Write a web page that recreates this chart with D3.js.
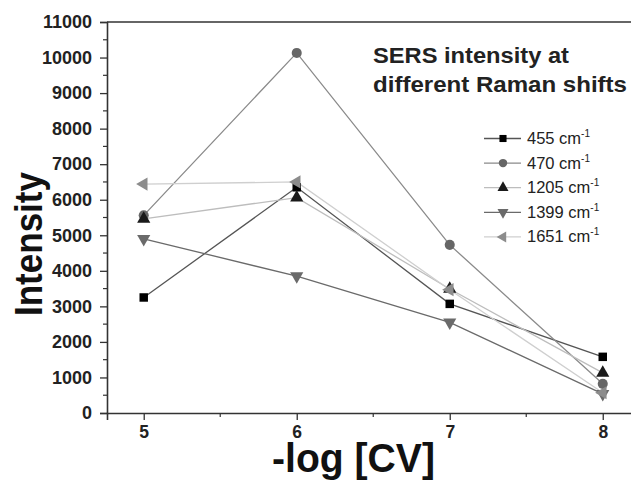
<!DOCTYPE html>
<html>
<head>
<meta charset="utf-8">
<script src="https://cdn.jsdelivr.net/npm/d3@7"></script>
<style>
  html, body { margin: 0; padding: 0; background: #fff; }
  svg { display: block; font-family: Arial, "Liberation Sans", sans-serif; }
</style>
</head>
<body>
<svg id="chart" width="631" height="481"></svg>
<script>
// -log[CV] concentrations on the x axis
const concentrations = [5, 6, 7, 8];

// SERS intensity for each Raman shift
const series455 = [3250, 6350, 3070, 1580];
const series470 = [5560, 10130, 4730, 820];
const series1205 = [5460, 6060, 3490, 1130];
const series1399 = [4900, 3850, 2550, 540];
const series1651 = [6440, 6500, 3470, 570];

const seriesNames = ["455", "470", "1205", "1399", "1651"];
const yTicks = [0, 1000, 2000, 3000, 4000, 5000, 6000, 7000, 8000, 9000, 10000, 11000];
const xTicks = [5, 6, 7, 8];

const seriesList = [
  { name: seriesNames[0], values: series455, symbol: d3.symbolSquare, size: 72, line: "#555", fill: "#000", rot: 0 },
  { name: seriesNames[1], values: series470, symbol: d3.symbolCircle, size: 80, line: "#8a8a8a", fill: "#666", rot: 0 },
  { name: seriesNames[2], values: series1205, symbol: d3.symbolTriangle, size: 75, line: "#bdbdbd", fill: "#1a1a1a", rot: 0 },
  { name: seriesNames[3], values: series1399, symbol: d3.symbolTriangle, size: 75, line: "#6a6a6a", fill: "#6a6a6a", rot: 180 },
  { name: seriesNames[4], values: series1651, symbol: d3.symbolTriangle, size: 75, line: "#cfcfcf", fill: "#8c8c8c", rot: -90 }
];

const svg = d3.select("#chart");
const x = d3.scaleLinear().domain([4.76, 8.25]).range([107, 641]);
const y = d3.scaleLinear().domain([0, 11000]).range([413, 22]);

const axisColor = "#333";
const labelFont = "Arial, 'Liberation Sans', sans-serif";

// frame: top border (right side runs past the canvas)
svg.append("line").attr("x1", 107).attr("x2", 641).attr("y1", y(11000)).attr("y2", y(11000))
  .attr("stroke", axisColor).attr("stroke-width", 1.6);

// y axis
const yAxis = svg.append("g").attr("transform", "translate(107,0)")
  .call(d3.axisLeft(y).tickValues(yTicks).tickSize(7).tickPadding(8).tickFormat(d3.format("d")));
yAxis.select(".domain").attr("stroke", axisColor).attr("stroke-width", 1.6);
yAxis.selectAll(".tick line").attr("stroke", axisColor).attr("stroke-width", 1.3);
yAxis.selectAll("text").attr("font-size", 18).attr("font-weight", "bold").attr("fill", "#222")
  .attr("font-family", labelFont);
// minor y ticks
svg.append("g").selectAll("line").data(d3.range(500, 11000, 1000)).join("line")
  .attr("x1", 107).attr("x2", 103).attr("y1", d => y(d)).attr("y2", d => y(d))
  .attr("stroke", axisColor).attr("stroke-width", 1.2);

// x axis
const xAxis = svg.append("g").attr("transform", "translate(0,413)")
  .call(d3.axisBottom(x).tickValues(xTicks).tickSize(7).tickPadding(6).tickFormat(d3.format("d")));
xAxis.select(".domain").attr("stroke", axisColor).attr("stroke-width", 1.6);
xAxis.selectAll(".tick line").attr("stroke", axisColor).attr("stroke-width", 1.3);
xAxis.selectAll("text").attr("font-size", 17.5).attr("font-weight", "bold").attr("fill", "#222")
  .attr("font-family", labelFont);
// minor x ticks
svg.append("g").selectAll("line").data([5.5, 6.5, 7.5]).join("line")
  .attr("x1", d => x(d)).attr("x2", d => x(d)).attr("y1", 413).attr("y2", 417)
  .attr("stroke", axisColor).attr("stroke-width", 1.2);

// series lines
const lineGen = d3.line().x((d, i) => x(concentrations[i])).y(d => y(d));
const sym = d3.symbol();

seriesList.forEach(s => {
  svg.append("path").datum(s.values).attr("d", lineGen)
    .attr("fill", "none").attr("stroke", s.line).attr("stroke-width", 1.3);
});
seriesList.forEach(s => {
  svg.append("g").selectAll("path").data(s.values).join("path")
    .attr("d", sym.type(s.symbol).size(s.size)())
    .attr("transform", (d, i) => `translate(${x(concentrations[i])},${y(d)}) rotate(${s.rot})`)
    .attr("fill", s.fill);
});

// legend
const legend = svg.append("g");
seriesList.forEach((s, i) => {
  const ly = 138.5 + i * 24.6;
  legend.append("line").attr("x1", 484).attr("x2", 521).attr("y1", ly).attr("y2", ly)
    .attr("stroke", s.line).attr("stroke-width", 1.3);
  legend.append("path").attr("d", d3.symbol().type(s.symbol).size(s.size * 0.7)())
    .attr("transform", `translate(503,${ly}) rotate(${s.rot})`).attr("fill", s.fill);
  const t = legend.append("text").attr("x", 527).attr("y", ly + 5.5)
    .attr("font-size", 16.5).attr("fill", "#222");
  t.append("tspan").text(s.name + " cm");
  t.append("tspan").attr("dy", -7).attr("font-size", 10).text("-1");
});

// inset title
const title = svg.append("g").attr("font-size", 22).attr("font-weight", "bold").attr("fill", "#222");
title.append("text").attr("x", 373).attr("y", 62.5)
  .attr("textLength", 196).attr("lengthAdjust", "spacingAndGlyphs").text("SERS intensity at");
title.append("text").attr("x", 373).attr("y", 92)
  .attr("textLength", 254).attr("lengthAdjust", "spacingAndGlyphs").text("different Raman shifts");

// axis titles
svg.append("text").attr("transform", "translate(42,316) rotate(-90)")
  .attr("font-size", 39).attr("font-weight", "bold").attr("fill", "#111")
  .attr("textLength", 144).attr("lengthAdjust", "spacingAndGlyphs").text("Intensity");
svg.append("text").attr("x", 272).attr("y", 472)
  .attr("font-size", 40).attr("font-weight", "bold").attr("fill", "#111")
  .attr("textLength", 163).attr("lengthAdjust", "spacingAndGlyphs").text("-log [CV]");
</script>
</body>
</html>
